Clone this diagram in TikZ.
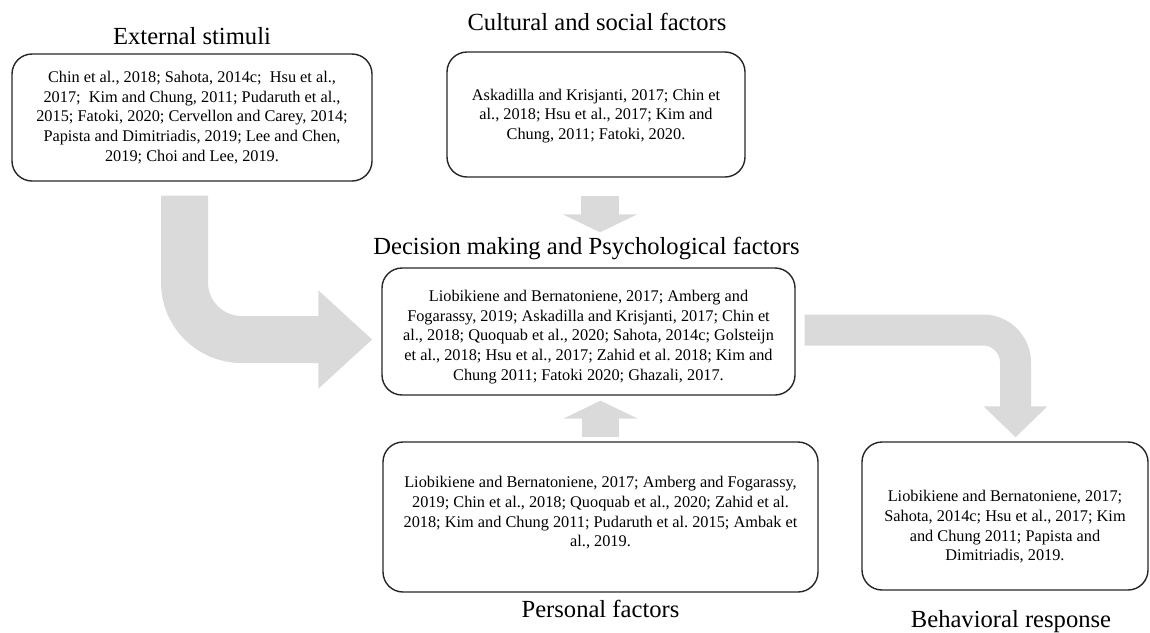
\documentclass[tikz,border=0pt]{standalone}
\usepackage{fontspec}
\setmainfont{Liberation Serif}
\usetikzlibrary{arrows.meta}
\definecolor{arrowgray}{RGB}{218,218,218}
\frenchspacing

\begin{document}
\begin{tikzpicture}[x=0.5pt, y=-0.5pt,
	refbox/.style={draw=black!85, line width=0.7pt, rounded corners=10pt, inner sep=0pt},
	reftext/.style={align=center, inner sep=0pt, font=\fontsize{8.15}{9.85}\selectfont},
	title/.style={anchor=base, font=\fontsize{12.3}{14}\selectfont},
	flow/.style={draw=arrowgray, line cap=butt}]
	\useasboundingbox (0,0) rectangle (1150,632);
	% boxes
	\node [refbox, minimum width=180pt, minimum height=63.5pt] (ext) at (192,117.5) {};
	\node [refbox, minimum width=149pt, minimum height=62.5pt] (cult) at (596,114.5) {};
	\node [refbox, minimum width=206.5pt, minimum height=63.5pt] (dec) at (588.5,331.5) {};
	\node [refbox, minimum width=217.5pt, minimum height=75pt] (pers) at (600.5,517) {};
	\node [refbox, minimum width=143pt, minimum height=74pt] (beh) at (1005,516) {};
	% references in the boxes
	\node [reftext] (exttext) at (ext.center) {Chin et al., 2018; Sahota, 2014c;\ \ Hsu et al.,\\ 2017;\ \ Kim and Chung, 2011; Pudaruth et al.,\\ 2015; Fatoki, 2020; Cervellon and Carey, 2014;\\ Papista and Dimitriadis, 2019; Lee and Chen,\\ 2019; Choi and Lee, 2019.};
	\node [reftext] (culttext) at ([yshift=-0.75pt]cult.center) {Askadilla and Krisjanti, 2017; Chin et\\ al., 2018; Hsu et al., 2017; Kim and\\ Chung, 2011; Fatoki, 2020.};
	\node [reftext] (dectext) at ([yshift=-2.75pt]dec.center) {Liobikiene and Bernatoniene, 2017; Amberg and\\ Fogarassy, 2019; Askadilla and Krisjanti, 2017; Chin et\\ al., 2018; Quoquab et al., 2020; Sahota, 2014c; Golsteijn\\ et al., 2018; Hsu et al., 2017; Zahid et al. 2018; Kim and\\ Chung 2011; Fatoki 2020; Ghazali, 2017.};
	\node [reftext] (perstext) at ([yshift=2pt]pers.center) {Liobikiene and Bernatoniene, 2017; Amberg and Fogarassy,\\ 2019; Chin et al., 2018; Quoquab et al., 2020; Zahid et al.\\ 2018; Kim and Chung 2011; Pudaruth et al. 2015; Ambak et\\ al., 2019.};
	\node [reftext] (behtext) at ([yshift=-5.5pt]beh.center) {Liobikiene and Bernatoniene, 2017;\\ Sahota, 2014c; Hsu et al., 2017; Kim\\ and Chung 2011; Papista and\\ Dimitriadis, 2019.};
	% titles
	\node [title] (exttitle) at (192,44) {External stimuli};
	\node [title] (culttitle) at (597,30) {Cultural and social factors};
	\node [title] (dectitle) at (586.5,254) {Decision making and Psychological factors};
	\node [title] (perstitle) at (600.5,617) {Personal factors};
	\node [title] (behtitle) at (1011,627) {Behavioral response};
	% block arrows
	\draw [flow, line width=23.5pt, rounded corners=28.5pt, shorten <=7pt, shorten >=4.5pt, -{Triangle[width=47.5pt, length=27pt]}] ([xshift=-3.75pt]ext.south) |- ([yshift=-4pt]dec.west);
	\draw [flow, line width=15.5pt, rounded corners=16.25pt, shorten <=4.5pt, shorten >=2pt, -{Triangle[width=31pt, length=15.5pt]}] ([yshift=0.75pt]dec.east) -| ([xshift=5.25pt]beh.north);
	\draw [flow, line width=19pt, shorten <=9pt, shorten >=17.5pt, -{Triangle[width=37pt, length=9pt]}] ([xshift=2pt]cult.south) -- ([xshift=2pt]cult.south |- dec.north);
	\draw [flow, line width=18.5pt, shorten <=2pt, shorten >=2.5pt, -{Triangle[width=37pt, length=9pt]}] (pers.north) -- (pers.north |- dec.south);
\end{tikzpicture}
\end{document}
